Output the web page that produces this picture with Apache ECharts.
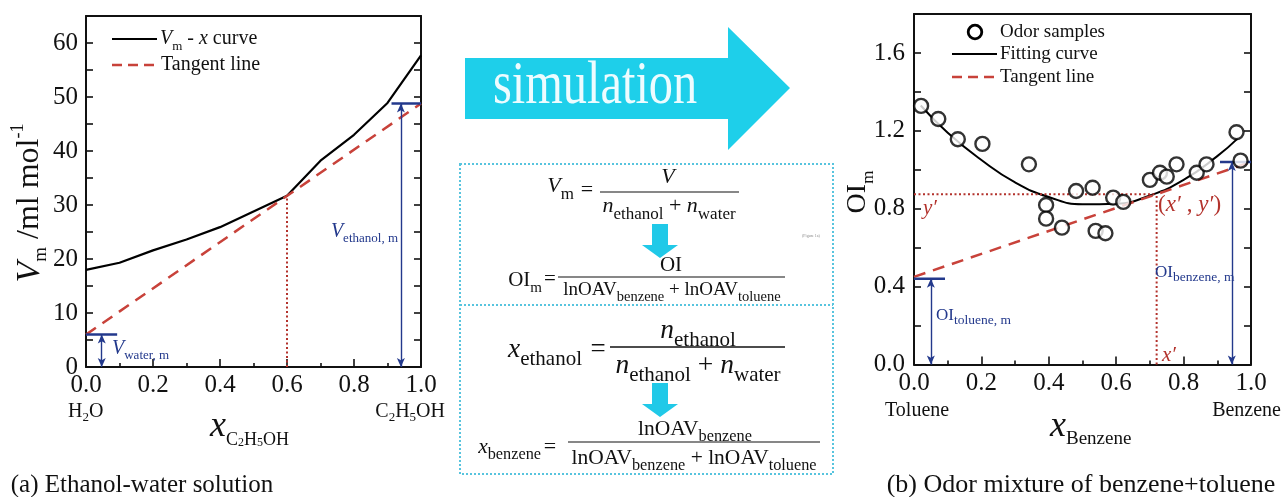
<!DOCTYPE html>
<html>
<head>
<meta charset="utf-8">
<script src="https://cdn.jsdelivr.net/npm/echarts@6/dist/echarts.min.js"></script>
<style>
  html, body { margin: 0; padding: 0; background: #fff; }
  #chart { width: 1282px; height: 497px; }
</style>
</head>
<body>
<div id="chart"></div>
<script>
// ---- (a) ethanol-water: molar volume curve ----
const vmX = [0, 0.1, 0.2, 0.3, 0.4, 0.5, 0.6, 0.7, 0.8, 0.9, 1.0];
const vmY = [18, 19.3, 21.6, 23.6, 25.9, 28.8, 31.7, 38.2, 43.0, 48.9, 57.7];
const tangentAX = [0, 1.0];
const tangentAY = [6, 48.8];
const tangentPointA = [0.6, 31.7];
const waterPartialA = 6;
const ethanolPartialA = 48.8;

// ---- (b) benzene+toluene odour mixture ----
const odorX = [0.021, 0.072, 0.13, 0.203, 0.341, 0.392, 0.392, 0.439, 0.481, 0.53, 0.539,
               0.568, 0.591, 0.621, 0.70, 0.73, 0.75, 0.779, 0.839, 0.868, 0.957, 0.969];
const odorY = [1.328, 1.261, 1.157, 1.133, 1.028, 0.819, 0.749, 0.703, 0.891, 0.908, 0.686,
               0.674, 0.857, 0.835, 0.948, 0.985, 0.965, 1.028, 0.985, 1.028, 1.193, 1.047];
const fitX = [0.02, 0.1, 0.2, 0.3, 0.4, 0.5, 0.6, 0.7, 0.8, 0.9, 0.96];
const fitY = [1.33, 1.19, 1.05, 0.935, 0.86, 0.823, 0.826, 0.868, 0.948, 1.07, 1.16];
const tangentBX = [0, 1.0];
const tangentBY = [0.45, 1.04];
const tangentPointB = [0.72, 0.874];
const toluenePartialB = 0.44;
const benzenePartialB = 1.04;

// where the partial-value brackets sit along x
const waterBracketX = [0, 0.093, 0.047];
const ethanolBracketX = [0.912, 1.0, 0.94];
const tolueneBracketX = [0, 0.092, 0.05];
const benzeneBracketX = [0.908, 1.0, 0.943];

const SERIF = '"Liberation Serif","Times New Roman",serif';
const INK = '#111';
const NAVY = '#23398c';
const RED = '#c8423a';
const DOT = '#b3322c';
const CYAN = '#1ecfea';

const pairs = (xs, ys) => xs.map((x, i) => [x, ys[i]]);

function main(size, L, fill, italic) {
  return { fontFamily: SERIF, fontSize: size, lineHeight: L, fill: fill, fontStyle: italic ? 'italic' : 'normal' };
}
function sub(size, fill, italic) {
  return { fontFamily: SERIF, fontSize: size, lineHeight: size, fill: fill, verticalAlign: 'bottom', fontStyle: italic ? 'italic' : 'normal' };
}
function sup(size, fill) {
  return { fontFamily: SERIF, fontSize: size, lineHeight: size, fill: fill, verticalAlign: 'top' };
}
function txt(x, y, text, rich, o) {
  o = o || {};
  return {
    type: 'text', x: x, y: y, silent: true, z: 50,
    rotation: o.rotation || 0, scaleX: o.scaleX || 1,
    style: {
      text: text, rich: rich || undefined, fontFamily: SERIF, fontSize: o.size || 20,
      fontStyle: o.italic ? 'italic' : 'normal',
      fill: o.fill || INK, align: o.align || 'left', verticalAlign: 'middle'
    }
  };
}
function seg(x1, y1, x2, y2, stroke, w, dash) {
  return { type: 'line', silent: true, z: 50, shape: { x1, y1, x2, y2 },
           style: { stroke: stroke, lineWidth: w, lineDash: dash || null } };
}

// ---- axes ----
const tickStyle = { color: INK, width: 1.6 };
function xAxes(gi) {
  return [
    { gridIndex: gi, type: 'value', min: 0, max: 1, interval: 0.2, position: 'bottom',
      axisLine: { onZero: false, lineStyle: { color: INK, width: 2 } },
      axisTick: { inside: true, length: 8, lineStyle: tickStyle },
      minorTick: { show: true, splitNumber: 2, length: 4, lineStyle: tickStyle },
      axisLabel: { margin: 6, fontFamily: SERIF, fontSize: 25, color: INK, formatter: v => v.toFixed(1) },
      splitLine: { show: false } },
    { gridIndex: gi, type: 'value', min: 0, max: 1, position: 'top',
      axisLine: { onZero: false, lineStyle: { color: INK, width: 2 } },
      axisTick: { show: false }, axisLabel: { show: false }, splitLine: { show: false } }
  ];
}
function yAxes(gi, max, step, fmt, margin) {
  const base = { gridIndex: gi, type: 'value', min: 0, max: max, interval: step,
    axisLine: { onZero: false, lineStyle: { color: INK, width: 2 } },
    axisTick: { inside: true, length: 7, lineStyle: tickStyle },
    splitLine: { show: false } };
  return [
    Object.assign({}, base, { position: 'left',
      axisLabel: { margin: margin, fontFamily: SERIF, fontSize: 25, color: INK, formatter: fmt } }),
    Object.assign({}, base, { position: 'right', axisLabel: { show: false } })
  ];
}
const fmtA = v => (Math.round(v) % 10 === 0 && v < 65 ? String(Math.round(v)) : '');
const fmtB = v => { const k = Math.round(v * 10); return k % 4 === 0 && k < 18 ? (k / 10).toFixed(1) : ''; };

function dblArrow(x, y0, y1) {
  return {
    silent: true, animation: false, symbol: ['arrow', 'arrow'], symbolSize: [6, 9],
    label: { show: false }, emphasis: { disabled: true },
    lineStyle: { color: NAVY, width: 1.4, type: 'solid' },
    data: [[{ coord: [x, y0] }, { coord: [x, y1] }]]
  };
}
function lineSeries(xi, yi, data, color, width, type, extra) {
  return Object.assign({
    type: 'line', xAxisIndex: xi, yAxisIndex: yi, data: data, symbol: 'none', silent: true,
    animation: false, lineStyle: { color: color, width: width, type: type || 'solid' }, z: 3
  }, extra || {});
}

const series = [
  // (a)
  lineSeries(0, 0, pairs(vmX, vmY), '#000', 2.2),
  lineSeries(0, 0, pairs(tangentAX, tangentAY), RED, 2.5, [12, 8]),
  lineSeries(0, 0, [[tangentPointA[0], 0], tangentPointA], DOT, 2, [2, 2.5]),
  lineSeries(0, 0, [[waterBracketX[0], waterPartialA], [waterBracketX[1], waterPartialA]], NAVY, 2.5, 'solid',
    { markLine: dblArrow(waterBracketX[2], 0, waterPartialA) }),
  lineSeries(0, 0, [[ethanolBracketX[0], ethanolPartialA], [ethanolBracketX[1], ethanolPartialA]], NAVY, 2.5, 'solid',
    { markLine: dblArrow(ethanolBracketX[2], 0, ethanolPartialA) }),
  // (b)
  lineSeries(2, 2, pairs(fitX, fitY), '#000', 2, 'solid', { smooth: true }),
  lineSeries(2, 2, pairs(tangentBX, tangentBY), RED, 2.5, [12, 8]),
  lineSeries(2, 2, [[0, tangentPointB[1]], tangentPointB], DOT, 2, [2, 2.5]),
  lineSeries(2, 2, [[tangentPointB[0], 0], tangentPointB], DOT, 2, [2, 2.5]),
  lineSeries(2, 2, [[tolueneBracketX[0], toluenePartialB], [tolueneBracketX[1], toluenePartialB]], NAVY, 2.5, 'solid',
    { markLine: dblArrow(tolueneBracketX[2], 0, toluenePartialB) }),
  lineSeries(2, 2, [[benzeneBracketX[0], benzenePartialB], [benzeneBracketX[1], benzenePartialB]], NAVY, 2.5, 'solid',
    { markLine: dblArrow(benzeneBracketX[2], 0, benzenePartialB) }),
  { type: 'scatter', xAxisIndex: 2, yAxisIndex: 2, data: pairs(odorX, odorY), symbol: 'circle',
    symbolSize: 14, silent: true, animation: false, z: 5,
    itemStyle: { color: '#fff', borderColor: '#000', borderWidth: 2.4 } }
];

// ---- annotations, titles, legends, middle panel ----
const g = [];

// axis titles
g.push(txt(30, 203, '{v|V}{s|m}{n| /ml mol}{p|-1}', {
  v: main(34, 42, INK, true), s: sub(19, INK), n: main(32, 42, INK), p: sup(18, INK)
}, { rotation: Math.PI / 2, align: 'center' }));
g.push(txt(858, 192, '{a|OI}{s|m}', { a: main(28, 38, INK), s: sub(17, INK) },
  { rotation: Math.PI / 2, align: 'center' }));

g.push(txt(210, 427, '{x|x}{a|C}{d|2}{a|H}{d|5}{a|OH}', {
  x: main(36, 44, INK, true), a: sub(18, INK), d: { fontFamily: SERIF, fontSize: 12, lineHeight: 10, fill: INK, verticalAlign: 'bottom' }
}));
g.push(txt(1050, 427, '{x|x}{a|Benzene}', { x: main(36, 44, INK, true), a: sub(19, INK) }));

// end-member names under the x axes
const endRich = { a: main(20, 24, INK), s: sub(13, INK) };
g.push(txt(68, 412, '{a|H}{s|2}{a|O}', endRich));
g.push(txt(445, 412, '{a|C}{s|2}{a|H}{s|5}{a|OH}', endRich, { align: 'right' }));
g.push(txt(885, 411, 'Toluene', null, { size: 20 }));
g.push(txt(1281, 411, 'Benzene', null, { size: 20, align: 'right' }));

// captions
g.push(txt(142, 485, '(a) Ethanol-water solution', null, { size: 25, align: 'center' }));
g.push(txt(1081, 485, '(b) Odor mixture of benzene+toluene', null, { size: 26, align: 'center' }));

// legend (a)
g.push(seg(112, 39, 157, 39, '#000', 2.2));
g.push(txt(160, 39, '{v|V}{s|m}{n| - }{i|x}{n| curve}', {
  v: main(20, 28, INK, true), s: sub(13, INK), n: main(20, 28, INK), i: main(20, 28, INK, true)
}));
g.push(seg(112, 65, 157, 65, RED, 2.5, [10, 6]));
g.push(txt(161, 65, 'Tangent line', null, { size: 20 }));

// legend (b)
g.push({ type: 'circle', silent: true, z: 50, shape: { cx: 975, cy: 32, r: 6.8 },
         style: { fill: '#fff', stroke: '#000', lineWidth: 2.8 } });
g.push(txt(1000, 32, 'Odor samples', null, { size: 19 }));
g.push(seg(952, 54, 997, 54, '#000', 2));
g.push(txt(1000, 54, 'Fitting curve', null, { size: 19 }));
g.push(seg(952, 77, 997, 77, RED, 2.5, [10, 6]));
g.push(txt(1000, 77, 'Tangent line', null, { size: 19 }));

// partial molar quantity labels
const blueV = { v: main(20, 26, NAVY, true), s: sub(13, NAVY) };
g.push(txt(112, 349, '{v|V}{s|water, m}', blueV));
g.push(txt(398, 232, '{v|V}{s|ethanol, m}', blueV, { align: 'right' }));
const blueOI = { v: main(17, 22, NAVY), s: sub(13.5, NAVY) };
g.push(txt(936, 316, '{v|OI}{s|toluene, m}', blueOI));
g.push(txt(1155, 273, '{v|OI}{s|benzene, m}', blueOI));

// tangent point labels
g.push(txt(923, 208, 'y′', null, { size: 21, italic: true, fill: DOT }));
g.push(txt(1158, 205, '{n|(}{i|x′}{n| , }{i|y′}{n|)}', {
  n: main(23, 26, DOT), i: main(23, 26, DOT, true)
}));
g.push(txt(1162, 355, 'x′', null, { size: 21, italic: true, fill: DOT }));

// "simulation" arrow
g.push({ type: 'polygon', silent: true, z: 10,
  shape: { points: [[465, 58], [728, 58], [728, 27], [790, 88], [728, 150], [728, 119], [465, 119]] },
  style: { fill: CYAN } });
g.push(Object.assign(txt(493, 87, 'simulation', null, { size: 62, fill: '#edfcff', scaleX: 0.78 }), { z: 60 }));

// formula box
g.push({ type: 'rect', silent: true, z: 10, shape: { x: 460, y: 164, width: 373, height: 310 },
         style: { fill: 'none', stroke: '#58c4de', lineWidth: 2, lineDash: [2, 2] } });
g.push(seg(460, 305, 833, 305, '#58c4de', 2, [2, 2]));

function downArrow(top) {
  return { type: 'polygon', silent: true, z: 20,
    shape: { points: [[652, top], [668, top], [668, top + 21], [678, top + 21], [660, top + 34], [642, top + 21], [652, top + 21]] },
    style: { fill: '#20c9e8' } };
}
g.push(downArrow(224));
g.push(downArrow(383));

// Vm = V / (n_ethanol + n_water)
const f1 = { i: main(22, 34, INK, true), n: main(22, 34, INK), s: sub(17, INK) };
g.push(txt(574, 186, '{i|V}{s|m}', f1, { align: 'right' }));
g.push(txt(587, 190, '=', null, { size: 22, align: 'center' }));
g.push(seg(600, 192, 739, 192, INK, 1.2));
g.push(txt(668, 177, '{i|V}', f1, { align: 'center' }));
g.push(txt(669, 206, '{i|n}{s|ethanol}{n| + }{i|n}{s|water}', f1, { align: 'center' }));

// OIm = OI / (lnOAV_benzene + lnOAV_toluene)
const f2 = { n: main(19, 29, INK), s: sub(14.5, INK), o: main(21, 31, INK), t: sub(15, INK) };
g.push(txt(542, 280, '{o|OI}{t|m}', f2, { align: 'right' }));
g.push(txt(550, 279, '=', null, { size: 21, align: 'center' }));
g.push(seg(558, 277, 785, 277, INK, 1.2));
g.push(txt(671, 265, 'OI', null, { size: 21, align: 'center' }));
g.push(txt(672, 290, '{n|lnOAV}{s|benzene}{n| + lnOAV}{s|toluene}', f2, { align: 'center' }));

// x_ethanol = n_ethanol / (n_ethanol + n_water)
const f3 = { i: main(27.5, 40, INK, true), n: main(27.5, 40, INK), s: sub(21, INK) };
g.push(txt(582, 350, '{i|x}{s|ethanol}', f3, { align: 'right' }));
g.push(txt(598, 350, '=', null, { size: 27, align: 'center' }));
g.push(seg(610, 347, 785, 347, INK, 1.3));
g.push(txt(698, 331, '{i|n}{s|ethanol}', f3, { align: 'center' }));
g.push(txt(698, 366, '{i|n}{s|ethanol}{n| + }{i|n}{s|water}', f3, { align: 'center' }));

// x_benzene = lnOAV_benzene / (lnOAV_benzene + lnOAV_toluene)
const f4 = { i: main(21.5, 32, INK, true), n: main(21.5, 32, INK), s: sub(16.3, INK) };
g.push(txt(541, 447, '{i|x}{s|benzene}', f4, { align: 'right' }));
g.push(txt(550, 447, '=', null, { size: 22, align: 'center' }));
g.push(seg(568, 442, 820, 442, INK, 1.2));
g.push(txt(695, 429, '{n|lnOAV}{s|benzene}', f4, { align: 'center' }));
g.push(txt(694, 458, '{n|lnOAV}{s|benzene}{n| + lnOAV}{s|toluene}', f4, { align: 'center' }));

g.push(txt(802, 236, '(Figure 1a)', null, { size: 4, fill: '#888' }));

const option = {
  animation: false,
  backgroundColor: '#fff',
  grid: [
    { left: 86, top: 16, width: 335, height: 351 },
    { left: 914, top: 14, width: 337, height: 350.5 }
  ],
  xAxis: [].concat(xAxes(0), xAxes(1)),
  yAxis: [].concat(yAxes(0, 65, 5, fmtA, 8), yAxes(1, 1.8, 0.2, fmtB, 9)),
  series: series,
  graphic: { elements: g }
};

const chart = echarts.init(document.getElementById('chart'), null, { renderer: 'canvas' });
chart.setOption(option);
</script>
</body>
</html>
